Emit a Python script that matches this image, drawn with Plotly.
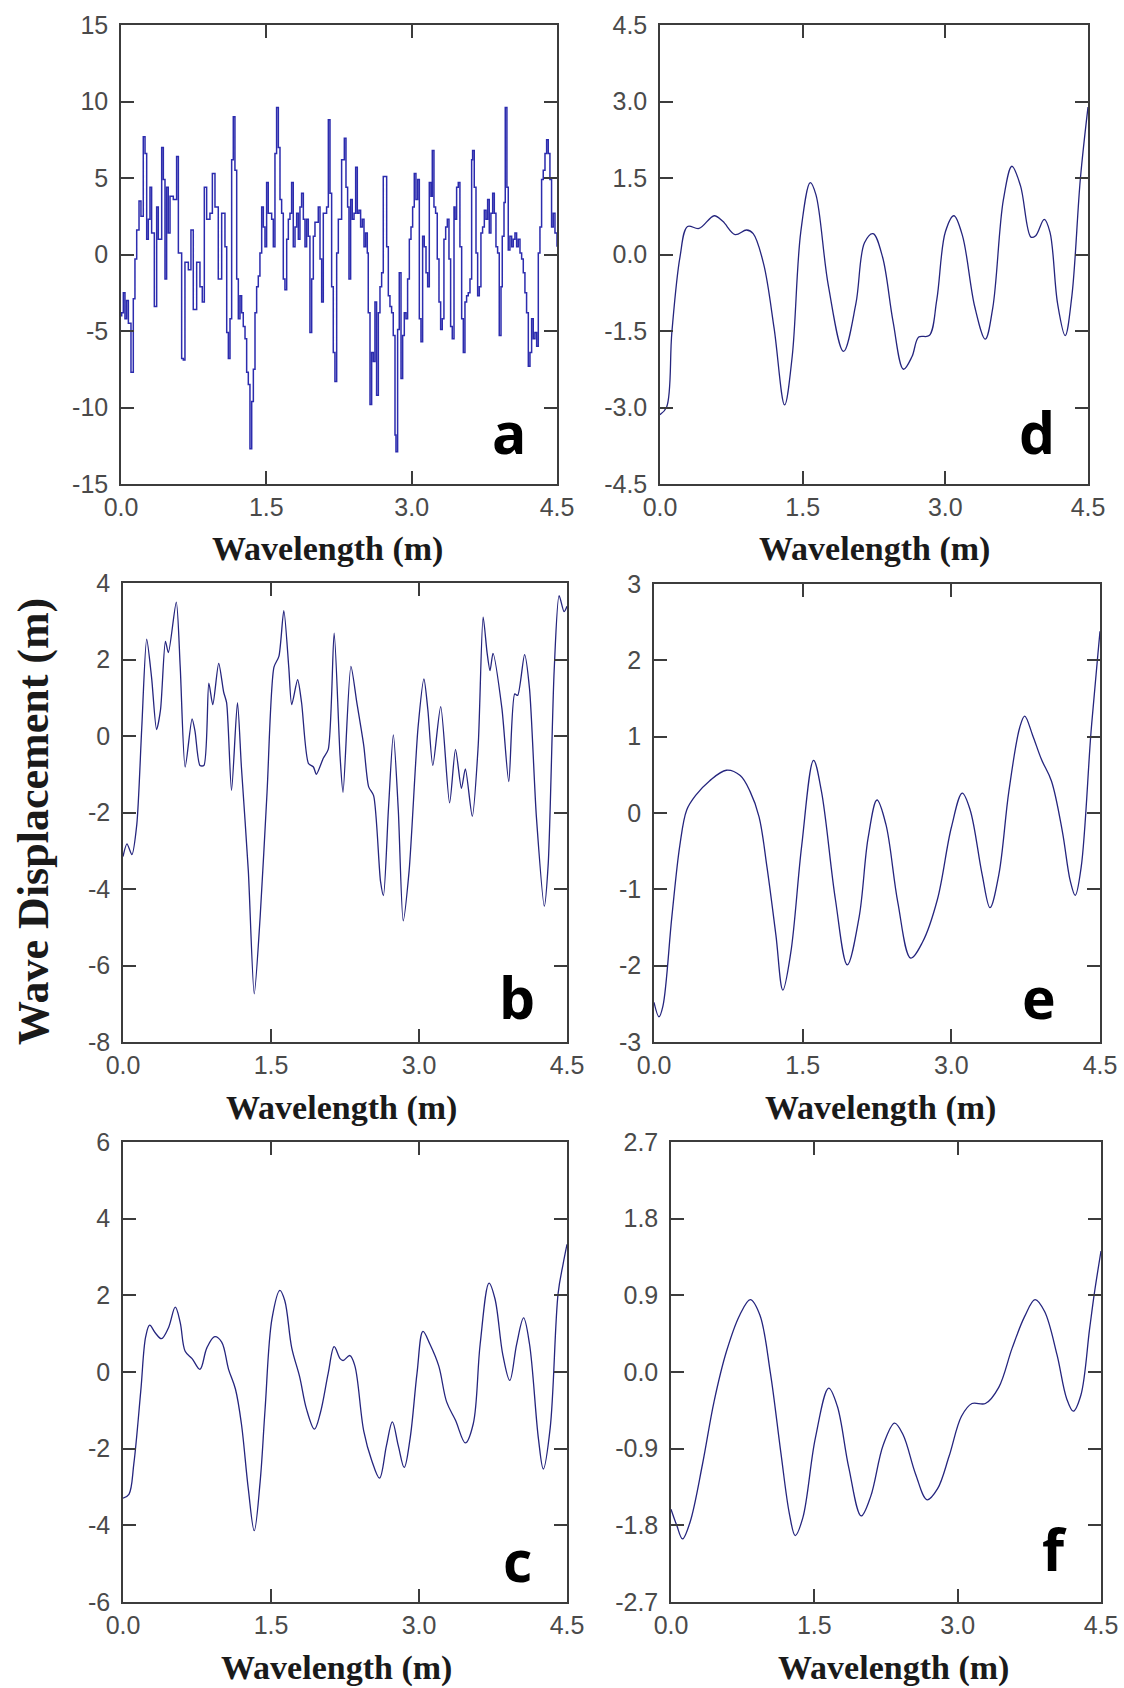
import plotly.graph_objects as go

# ---------------- data ----------------
x_ticks = [0.0, 1.5, 3.0, 4.5]
x_ticklabels = ["0.0", "1.5", "3.0", "4.5"]

# panel a (noisy wave)
a_x = [0.0, 0.007, 0.024, 0.041, 0.058, 0.076, 0.103, 0.127, 0.144, 0.162, 0.186, 0.206, 0.230, 0.248,
       0.265, 0.282, 0.299, 0.316, 0.344, 0.368, 0.385, 0.420, 0.437, 0.454, 0.471, 0.488, 0.506,
       0.540, 0.574, 0.592, 0.626, 0.643, 0.660, 0.695, 0.722, 0.746, 0.781, 0.815, 0.839, 0.860,
       0.884, 0.918, 0.943, 0.970, 1.004, 1.039, 1.073, 1.091, 1.108, 1.125, 1.142, 1.159,
       1.176, 1.194, 1.211, 1.228, 1.245, 1.262, 1.280, 1.297, 1.314, 1.331, 1.349, 1.366, 1.383,
       1.400, 1.417, 1.434, 1.452, 1.469, 1.486, 1.503, 1.520, 1.555, 1.572, 1.589, 1.606, 1.624,
       1.641, 1.658, 1.675, 1.692, 1.710, 1.727, 1.744, 1.761, 1.778, 1.796, 1.813, 1.830, 1.847,
       1.864, 1.882, 1.899, 1.916, 1.933, 1.950, 1.968, 1.985, 2.002, 2.036, 2.054, 2.071, 2.088,
       2.122, 2.140, 2.157, 2.174, 2.191, 2.208, 2.226, 2.243, 2.277, 2.305,
       2.322, 2.339, 2.353, 2.370, 2.387, 2.405, 2.422, 2.439, 2.456, 2.473, 2.491, 2.508, 2.525,
       2.542, 2.552, 2.570, 2.587, 2.604, 2.621, 2.638, 2.656, 2.673, 2.690, 2.707, 2.724, 2.742,
       2.759, 2.776, 2.793, 2.810, 2.828, 2.838, 2.855, 2.872, 2.890, 2.907, 2.924, 2.941, 2.958,
       2.976, 2.993, 3.010, 3.027, 3.044, 3.062, 3.079, 3.096, 3.113, 3.130, 3.148, 3.165, 3.182,
       3.199, 3.213, 3.230, 3.247, 3.264, 3.282, 3.299, 3.316, 3.333, 3.351, 3.368, 3.385, 3.402,
       3.419, 3.437, 3.447, 3.464, 3.481, 3.498, 3.516, 3.533, 3.550, 3.567, 3.584, 3.602, 3.619,
       3.629, 3.646, 3.664, 3.681, 3.698, 3.715, 3.732, 3.750, 3.767, 3.784, 3.801, 3.818, 3.836,
       3.853, 3.870, 3.887, 3.904, 3.922, 3.935, 3.953, 3.966, 3.983, 3.997, 4.014, 4.032, 4.049,
       4.066, 4.083, 4.100, 4.118, 4.135, 4.152, 4.169, 4.186, 4.204, 4.221, 4.238, 4.255, 4.272,
       4.290, 4.307, 4.324, 4.341, 4.358, 4.376, 4.393, 4.410, 4.427, 4.444, 4.461, 4.479, 4.5]
a_y = [-4.0, -3.8, -2.5, -4.2, -3.0, -4.5, -7.7, -2.9, -0.3, 1.6, 3.5, 2.5, 7.7, 6.6,
       1.0, 2.3, 4.4, 1.4, -3.4, 3.1, 1.0, 7.0, 4.9, -1.6, 4.4, 1.4, 3.8,
       3.6, 6.4, 0.1, -6.8, -6.9, -0.5, -1.0, 1.6, -3.6, -0.5, -2.1, -3.1, 4.4,
       2.3, 2.7, 5.3, 3.1, -1.6, 2.7, 0.5, -5.1, -6.8, -4.2, 6.2, 9.0,
       5.5, -1.6, -4.2, -2.7, -3.8, -4.7, -5.5, -7.7, -8.5, -12.7, -9.6, -7.5, -3.8,
       -2.1, -1.4, 0.1, 3.1, 1.8, 0.5, 4.7, 2.7, 2.3, 0.5, 6.6, 9.6, 7.0,
       3.6, 2.7, -1.6, -2.3, 1.0, 2.3, 2.7, 4.7, 0.5, 1.8, 2.7, 1.0, 3.1,
       4.0, 2.3, 0.5, 2.3, 1.2, -5.1, -1.6, 1.2, 2.1, 3.1, -0.3, -3.1, 2.7,
       3.1, 8.8, 4.0, -2.1, -6.4, -8.3, 0.1, 2.3, 6.2, 7.6,
       4.4, 3.1, -1.6, 3.6, 2.3, 2.7, 5.7, 2.7, 2.9, 1.8, 2.3, 0.5, 1.4,
       0.1, -3.8, -9.8, -6.4, -7.0, -3.1, -9.2, -3.8, -2.1, -1.2, 5.1, 5.1, 0.5,
       -2.7, -3.4, -3.8, -5.3, -11.8, -12.9, -4.9, -1.2, -8.1, -5.3, -3.8, -4.2, -1.6,
       1.0, 1.8, 3.1, 5.3, 3.6, 4.9, -4.2, -5.7, 1.2, 0.5, -1.2, -2.1, 4.7,
       3.8, 6.8, 3.1, 2.7, -0.3, -3.1, -4.9, -4.2, 1.0, 1.8, 2.3, -0.3, -4.7,
       -5.5, 3.1, 2.3, 4.4, 4.7, 0.5, -4.2, -6.4, -3.1, -2.7, -2.5, -1.6, 6.2,
       6.8, 4.4, 0.1, -2.7, -2.1, 1.4, 1.8, 2.9, 2.3, 3.6, 1.4, 2.7, 4.0,
       2.7, 0.5, 0.1, -5.3, -2.1, 1.2, 3.4, 9.6, 4.4, 0.3, 1.2, 0.5, 1.0,
       1.4, 0.5, 1.0, 0.1, -0.3, -1.2, -2.5, -3.8, -7.3, -6.4, -4.2, -5.5, -5.1,
       -6.0, 0.1, 1.8, 4.9, 5.5, 6.6, 7.5, 6.6, 4.9, 1.8, 2.7, 1.4, 0.5]
a_yticks = [-15, -10, -5, 0, 5, 10, 15]
a_yticklabels = ["-15", "-10", "-5", "0", "5", "10", "15"]

# panel b
b_x = [0.0, 0.04, 0.09, 0.14, 0.19, 0.24, 0.29, 0.34, 0.38, 0.43, 0.46, 0.54, 0.58, 0.63, 0.7, 0.73,
       0.78, 0.82, 0.87, 0.91, 0.97, 1.02, 1.05, 1.1, 1.16, 1.2, 1.27, 1.33, 1.39, 1.46, 1.53, 1.58,
       1.63, 1.68, 1.71, 1.77, 1.81, 1.88, 1.93, 1.96, 2.03, 2.08, 2.14, 2.2, 2.23, 2.31, 2.37, 2.44,
       2.49, 2.54, 2.61, 2.64, 2.69, 2.74, 2.79, 2.84, 2.9, 2.99, 3.05, 3.09, 3.14, 3.22, 3.31, 3.37,
       3.43, 3.47, 3.54, 3.6, 3.65, 3.69, 3.72, 3.75, 3.84, 3.91, 3.97, 4.0, 4.07, 4.12, 4.19, 4.27,
       4.31, 4.37, 4.42, 4.47, 4.5]
b_y = [-3.15, -2.82, -3.1, -2.31, 0.21, 2.53, 1.52, 0.17, 0.68, 2.47, 2.18, 3.5, 1.8, -0.81, 0.45,
       0.12, -0.77, -0.77, 1.38, 0.82, 1.9, 1.15, 0.87, -1.42, 0.87, -0.81, -3.52, -6.74, -4.73, -1.47,
       1.8, 2.08, 3.28, 1.8, 0.82, 1.47, 0.87, -0.72, -0.81, -1.0, -0.58, -0.35, 2.69, -0.53, -1.47,
       1.82, 0.87, -0.25, -1.33, -1.56, -3.8, -4.17, -1.93, 0.03, -1.93, -4.83, -3.52, 0.21, 1.49,
       0.68, -0.77, 0.77, -1.75, -0.35, -1.37, -0.86, -2.1, -0.25, 3.11, 2.18, 1.71, 2.16, 0.73,
       -1.19, 1.1, 1.06, 2.13, 1.24, -2.12, -4.45, -3.33, 1.71, 3.67, 3.25, 3.39]
b_yticks = [-8, -6, -4, -2, 0, 2, 4]
b_yticklabels = ["-8", "-6", "-4", "-2", "0", "2", "4"]

# panel c
c_x = [0.0, 0.06, 0.11, 0.18, 0.23, 0.27, 0.33, 0.39, 0.46, 0.53, 0.58, 0.63, 0.7, 0.78, 0.85, 0.93,
       1.0, 1.07, 1.14, 1.2, 1.27, 1.33, 1.39, 1.44, 1.51, 1.59, 1.64, 1.71, 1.79, 1.86, 1.94, 2.0,
       2.08, 2.14, 2.2, 2.23, 2.3, 2.35, 2.44, 2.52, 2.6, 2.67, 2.73, 2.79, 2.85, 2.91, 2.98, 3.04,
       3.11, 3.2, 3.28, 3.37, 3.47, 3.55, 3.62, 3.71, 3.77, 3.85, 3.92, 3.99, 4.06, 4.12, 4.21, 4.26,
       4.33, 4.41, 4.46, 4.5]
c_y = [-3.29, -3.19, -2.39, -0.5, 0.92, 1.22, 1.01, 0.87, 1.15, 1.69, 1.29, 0.54, 0.35, 0.07, 0.63,
       0.92, 0.78, 0.07, -0.45, -1.35, -3.05, -4.14, -2.86, -0.97, 1.39, 2.13, 1.86, 0.63, -0.12,
       -0.97, -1.49, -1.07, -0.03, 0.66, 0.35, 0.3, 0.43, 0.16, -1.54, -2.3, -2.77, -1.92, -1.3,
       -1.92, -2.49, -1.73, -0.03, 1.06, 0.73, 0.16, -0.78, -1.26, -1.85, -1.35, 0.73, 2.32, 1.91,
       0.44, -0.22, 0.73, 1.41, 0.73, -1.73, -2.53, -1.45, 2.05, 2.81, 3.33]
c_yticks = [-6, -4, -2, 0, 2, 4, 6]
c_yticklabels = ["-6", "-4", "-2", "0", "2", "4", "6"]

# panel d
d_x = [0.0, 0.07, 0.125, 0.21, 0.29, 0.41, 0.57, 0.66, 0.79, 0.91, 0.98, 1.09, 1.2, 1.31, 1.39, 1.48,
       1.58, 1.64, 1.77, 1.93, 2.06, 2.15, 2.24, 2.34, 2.45, 2.56, 2.65, 2.72, 2.83, 2.91, 3.0, 3.09,
       3.18, 3.31, 3.42, 3.5, 3.61, 3.7, 3.79, 3.9, 3.95, 4.04, 4.1, 4.18, 4.26, 4.33, 4.42, 4.5]
d_y = [-3.14, -2.99, -1.52, -0.05, 0.55, 0.51, 0.76, 0.65, 0.39, 0.48, 0.41, -0.19, -1.45, -2.95,
       -2.0, 0.44, 1.41, 1.17, -0.61, -1.9, -0.96, 0.23, 0.41, -0.05, -1.31, -2.25, -2.0, -1.62, -1.59,
       -0.89, 0.44, 0.76, 0.37, -1.03, -1.66, -1.03, 1.07, 1.73, 1.35, 0.34, 0.37, 0.69, 0.44, -0.96,
       -1.59, -0.82, 1.49, 2.89]
d_yticks = [-4.5, -3.0, -1.5, 0.0, 1.5, 3.0, 4.5]
d_yticklabels = ["-4.5", "-3.0", "-1.5", "0.0", "1.5", "3.0", "4.5"]

# panel e
e_x = [0.0, 0.05, 0.09, 0.18, 0.26, 0.33, 0.42, 0.56, 0.73, 0.87, 0.97, 1.06, 1.14, 1.23, 1.3, 1.38,
       1.49, 1.61, 1.69, 1.83, 1.95, 2.07, 2.16, 2.25, 2.34, 2.46, 2.59, 2.71, 2.86, 3.0, 3.11, 3.19,
       3.31, 3.39, 3.48, 3.58, 3.69, 3.74, 3.82, 3.91, 4.01, 4.12, 4.2, 4.25, 4.31, 4.41, 4.48, 4.5]
e_y = [-2.48, -2.67, -2.53, -1.36, -0.43, 0.04, 0.23, 0.42, 0.56, 0.49, 0.28, -0.05, -0.71, -1.6,
       -2.32, -1.83, -0.43, 0.69, 0.28, -1.13, -1.99, -1.36, -0.33, 0.17, -0.15, -1.17, -1.9, -1.69,
       -1.13, -0.19, 0.26, 0.04, -0.8, -1.24, -0.8, 0.28, 1.12, 1.27, 1.02, 0.7, 0.42, -0.24, -0.89,
       -1.08, -0.71, 1.07, 2.1, 2.38]
e_yticks = [-3, -2, -1, 0, 1, 2, 3]
e_yticklabels = ["-3", "-2", "-1", "0", "1", "2", "3"]

# panel f
f_x = [0.0, 0.06, 0.12, 0.2, 0.33, 0.45, 0.58, 0.72, 0.83, 0.93, 1.04, 1.15, 1.24, 1.3, 1.38, 1.51,
       1.65, 1.74, 1.86, 1.99, 2.09, 2.22, 2.34, 2.43, 2.56, 2.68, 2.79, 2.91, 3.04, 3.15, 3.29, 3.43,
       3.57, 3.7, 3.81, 3.91, 4.04, 4.14, 4.21, 4.29, 4.38, 4.43, 4.5]
f_y = [-1.61, -1.8, -1.96, -1.76, -1.08, -0.35, 0.24, 0.67, 0.85, 0.67, -0.01, -0.95, -1.67, -1.92,
       -1.71, -0.78, -0.19, -0.4, -1.12, -1.69, -1.46, -0.86, -0.6, -0.74, -1.2, -1.5, -1.37, -0.99,
       -0.52, -0.37, -0.37, -0.18, 0.28, 0.65, 0.85, 0.71, 0.2, -0.31, -0.46, -0.27, 0.5, 0.92, 1.42]
f_yticks = [-2.7, -1.8, -0.9, 0.0, 0.9, 1.8, 2.7]
f_yticklabels = ["-2.7", "-1.8", "-0.9", "0.0", "0.9", "1.8", "2.7"]

panel_letters = ["a", "b", "c", "d", "e", "f"]
x_title = "Wavelength (m)"
y_title = "Wave Displacement (m)"

# ---------------- layout helpers ----------------
W, H = 1124, 1688

def px_x(p):
    return p / W

def px_y(p):
    return 1 - p / H

# pixel boxes: (left, right, top, bottom)
panels = [
    dict(letter="a", x=a_x, y=a_y, rng=[-15, 15], tv=a_yticks, tt=a_yticklabels,
         box=(121, 557, 25, 484), shape="hv", lw=1.5, col="#2c2cae",
         lab=(509, 432), ttl=(327, 549)),
    dict(letter="b", x=b_x, y=b_y, rng=[-8, 4], tv=b_yticks, tt=b_yticklabels,
         box=(123, 567, 583, 1042), shape="spline", lw=1.3, col="#25257e",
         lab=(517, 997), ttl=(341, 1108)),
    dict(letter="c", x=c_x, y=c_y, rng=[-6, 6], tv=c_yticks, tt=c_yticklabels,
         box=(123, 567, 1142, 1602), shape="spline", lw=1.3, col="#25257e",
         lab=(517, 1560), ttl=(336, 1668)),
    dict(letter="d", x=d_x, y=d_y, rng=[-4.5, 4.5], tv=d_yticks, tt=d_yticklabels,
         box=(660, 1088, 25, 484), shape="spline", lw=1.3, col="#25257e",
         lab=(1037, 432), ttl=(874, 549)),
    dict(letter="e", x=e_x, y=e_y, rng=[-3, 3], tv=e_yticks, tt=e_yticklabels,
         box=(654, 1100, 584, 1042), shape="spline", lw=1.3, col="#25257e",
         lab=(1039, 997), ttl=(881, 1108)),
    dict(letter="f", x=f_x, y=f_y, rng=[-2.7, 2.7], tv=f_yticks, tt=f_yticklabels,
         box=(671, 1101, 1142, 1602), shape="spline", lw=1.3, col="#25257e",
         lab=(1054, 1549), ttl=(893, 1668)),
]

fig = go.Figure()
layout_axes = {}
annotations = []
tick_font = dict(family="Liberation Sans, Arial, sans-serif", size=25, color="#4a4a4a")
axis_common = dict(showgrid=False, zeroline=False, showline=True, linecolor="#3c3c3c",
                   linewidth=1.5, mirror="ticks", ticks="inside", ticklen=13, tickwidth=1.5,
                   tickcolor="#3c3c3c", tickfont=tick_font, automargin=False)

for i, p in enumerate(panels, start=1):
    sfx = "" if i == 1 else str(i)
    L, R, T, B = p["box"]
    line = dict(color=p["col"], width=p["lw"], shape=p["shape"])
    if p["shape"] == "spline":
        line["smoothing"] = 1.0 if p["letter"] != "b" else 0.7
    fig.add_trace(go.Scatter(x=p["x"], y=p["y"], mode="lines", line=line,
                             xaxis="x" + sfx, yaxis="y" + sfx, showlegend=False,
                             hoverinfo="skip"))
    layout_axes["xaxis" + sfx] = dict(axis_common, domain=[px_x(L), px_x(R)], range=[0, 4.5],
                                      tickvals=x_ticks, ticktext=x_ticklabels,
                                      anchor="y" + sfx)
    layout_axes["yaxis" + sfx] = dict(axis_common, domain=[px_y(B), px_y(T)], range=p["rng"],
                                      tickvals=p["tv"], ticktext=p["tt"], anchor="x" + sfx,
                                      ticklabelstandoff=6)
    lx, ly = p["lab"]
    annotations.append(dict(text=p["letter"], x=px_x(lx), y=px_y(ly), xref="paper",
                            yref="paper", showarrow=False, xanchor="center", yanchor="middle",
                            font=dict(family="Open Sans, Noto Sans, sans-serif", size=57,
                                      color="#000000", weight=700)))
    tx, ty = p["ttl"]
    annotations.append(dict(text="<b>" + x_title + "</b>", x=px_x(tx), y=px_y(ty), xref="paper",
                            yref="paper", showarrow=False, xanchor="center", yanchor="middle",
                            font=dict(family="Liberation Serif, Times New Roman, serif", size=34,
                                      color="#1a1a1a")))

annotations.append(dict(text="<b>" + y_title + "</b>", x=px_x(33), y=px_y(822), xref="paper",
                        yref="paper", showarrow=False, xanchor="center", yanchor="middle",
                        textangle=-90,
                        font=dict(family="Liberation Serif, Times New Roman, serif", size=44,
                                  color="#1a1a1a")))

fig.update_layout(width=W, height=H, margin=dict(l=0, r=0, t=0, b=0, autoexpand=False),
                  paper_bgcolor="white", plot_bgcolor="white",
                  annotations=annotations, **layout_axes)

fig.write_html("out.html", config={"displayModeBar": False},
               post_script="document.body.style.margin='0';document.body.style.padding='0';")
